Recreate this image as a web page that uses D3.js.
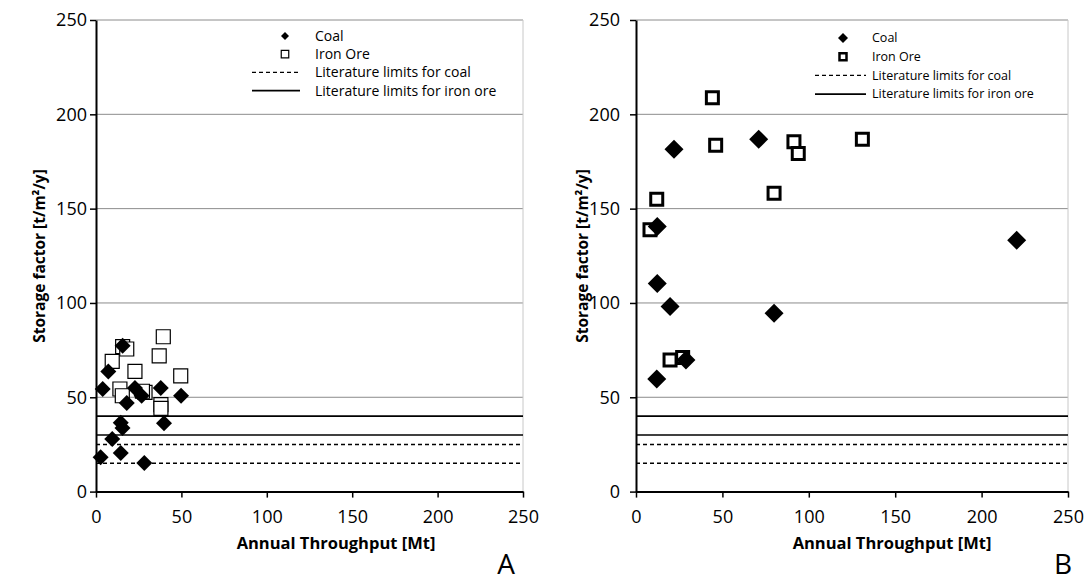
<!DOCTYPE html>
<html>
<head>
<meta charset="utf-8">
<script src="https://cdnjs.cloudflare.com/ajax/libs/d3/7.8.5/d3.min.js"></script>
<style>
  body { margin: 0; background: #fff; }
  svg text { font-family: "Open Sans", "DejaVu Sans", sans-serif; fill: #000; }
</style>
</head>
<body>
<div class="chart"></div>
<script>
// values: [throughput Mt, storage factor t/m2/y]
var coalA = [[15.6, 77.3], [7.2, 63.7], [3.9, 54.4], [22.8, 54.9], [26.7, 50.8], [18, 47],
  [37.9, 54.9], [49.8, 50.8], [14.5, 36.5], [15.5, 33.7], [39.8, 36.2], [9.5, 27.9],
  [14.5, 20.5], [2.7, 18.2], [28.3, 15.2]];
var ironA = [[39.4, 82.1], [15.6, 76.8], [18, 75.6], [9.5, 69], [37, 72], [22.8, 63.7],
  [49.6, 61.4], [14, 54.4], [15.4, 50.8], [28.7, 52.6], [27.2, 53.2], [38, 46.1], [38, 44.1]];

var coalB = [[22, 181.5], [71, 186.8], [12.3, 140.5], [12.3, 110.3], [19.7, 98.1],
  [79.9, 94.6], [28.9, 69.8], [12, 59.7], [220.3, 133.3]];
var ironB = [[44.2, 208.8], [46.1, 183.6], [91.4, 185.4], [93.9, 179.2], [131, 186.8],
  [79.9, 158.2], [12, 155], [8.1, 138.8], [19.7, 69.8], [27, 71.1]];

var litCoal = [15, 25];
var litIron = [30, 40];
var xTicks = [0, 50, 100, 150, 200, 250];
var yTicks = [0, 50, 100, 150, 200, 250];
var legendLabels = ["Coal", "Iron Ore", "Literature limits for coal", "Literature limits for iron ore"];

var svg = d3.select(".chart").append("svg")
  .attr("width", 1086)
  .attr("height", 582);

function drawPanel(p) {
  var x = d3.scaleLinear().domain([0, 250]).range([p.left, p.right]);
  var y = d3.scaleLinear().domain([0, 250]).range([491.6, 20]);
  var g = svg.append("g");

  // gridlines
  g.selectAll(".grid")
    .data(yTicks.slice(1))
    .enter().append("line")
    .attr("x1", x(0)).attr("x2", x(250))
    .attr("y1", d => y(d)).attr("y2", d => y(d))
    .attr("stroke", "#8c8c8c").attr("stroke-width", 1);

  g.append("line")
    .attr("x1", x(250)).attr("x2", x(250))
    .attr("y1", y(0)).attr("y2", y(250))
    .attr("stroke", "#c8c8c8").attr("stroke-width", 1);

  // literature limits
  g.selectAll(".litc")
    .data(litCoal)
    .enter().append("line")
    .attr("x1", x(0)).attr("x2", x(250))
    .attr("y1", d => y(d)).attr("y2", d => y(d))
    .attr("stroke", "#000").attr("stroke-width", 1.4)
    .attr("stroke-dasharray", "4,3");
  g.selectAll(".liti")
    .data(litIron)
    .enter().append("line")
    .attr("x1", x(0)).attr("x2", x(250))
    .attr("y1", d => y(d)).attr("y2", d => y(d))
    .attr("stroke", "#000").attr("stroke-width", 1.6);

  // axes
  var xAxis = g.append("g")
    .attr("transform", `translate(0, ${y(0)})`)
    .call(d3.axisBottom(x).tickValues(xTicks).tickSize(6).tickSizeOuter(0).tickPadding(13));
  var yAxis = g.append("g")
    .attr("transform", `translate(${x(0)}, 0)`)
    .call(d3.axisLeft(y).tickValues(yTicks).tickSize(6).tickSizeOuter(0).tickPadding(p.ypad));
  [xAxis, yAxis].forEach(function(a) {
    a.select(".domain").attr("stroke", "#000").attr("stroke-width", 2);
    a.selectAll(".tick line").attr("stroke", "#000").attr("stroke-width", 1.5);
    a.selectAll(".tick text").attr("font-size", "18px").attr("font-family", null);
  });

  // iron ore squares first, coal diamonds on top
  var sq = d3.symbol().type(d3.symbolSquare).size(p.sqSize * p.sqSize);
  g.selectAll(".iron")
    .data(p.iron)
    .enter().append("path")
    .attr("d", sq)
    .attr("transform", d => `translate(${x(d[0])}, ${y(d[1])})`)
    .attr("fill", "#fff")
    .attr("stroke", "#000")
    .attr("stroke-width", p.sqStroke);

  var dia = d3.symbol().type(d3.symbolSquare).size(p.diaSize * p.diaSize / 2);
  g.selectAll(".coal")
    .data(p.coal)
    .enter().append("path")
    .attr("d", dia)
    .attr("transform", d => `translate(${x(d[0])}, ${y(d[1])}) rotate(45)`)
    .attr("fill", "#000");

  // axis titles
  g.append("text")
    .attr("x", p.xTitleX).attr("y", 549)
    .attr("text-anchor", "middle")
    .attr("font-size", "16.5px").attr("font-weight", "bold")
    .text("Annual Throughput [Mt]");
  g.append("text")
    .attr("transform", `translate(${p.yTitleX}, 256) rotate(-90)`)
    .attr("text-anchor", "middle")
    .attr("font-size", "15.5px").attr("font-weight", "bold")
    .text("Storage factor [t/m²/y]");

  g.append("text")
    .attr("x", p.letterX).attr("y", 574)
    .attr("text-anchor", "middle")
    .attr("font-size", "28px")
    .text(p.letter);

  // legend
  var L = p.legend;
  var leg = g.append("g");
  leg.selectAll("text")
    .data(legendLabels)
    .enter().append("text")
    .attr("x", L.tx)
    .attr("y", (d, i) => L.y0 + i * L.dy)
    .attr("dy", "0.35em")
    .attr("font-size", L.font + "px")
    .text(d => d);
  leg.append("path")
    .attr("d", d3.symbol().type(d3.symbolSquare).size(L.dia * L.dia / 2))
    .attr("transform", `translate(${L.mx}, ${L.y0}) rotate(45)`)
    .attr("fill", "#000");
  leg.append("path")
    .attr("d", d3.symbol().type(d3.symbolSquare).size(L.sq * L.sq))
    .attr("transform", `translate(${L.mx}, ${L.y0 + L.dy})`)
    .attr("fill", "#fff").attr("stroke", "#000").attr("stroke-width", L.sqStroke);
  leg.append("line")
    .attr("x1", L.lx1).attr("x2", L.lx2)
    .attr("y1", L.y0 + 2 * L.dy).attr("y2", L.y0 + 2 * L.dy)
    .attr("stroke", "#000").attr("stroke-width", 1.4).attr("stroke-dasharray", "4,3");
  leg.append("line")
    .attr("x1", L.lx1).attr("x2", L.lx2)
    .attr("y1", L.y0 + 3 * L.dy).attr("y2", L.y0 + 3 * L.dy)
    .attr("stroke", "#000").attr("stroke-width", 1.6);
}

drawPanel({
  left: 96, right: 523, ypad: 3,
  coal: coalA, iron: ironA,
  diaSize: 16, sqSize: 14, sqStroke: 1.2,
  xTitleX: 336, yTitleX: 45, letterX: 506, letter: "A",
  legend: { tx: 315, mx: 285, lx1: 252, lx2: 300, y0: 36, dy: 18.2, font: 14, dia: 8, sq: 7.5, sqStroke: 1.2 }
});
drawPanel({
  left: 636, right: 1068, ypad: 10,
  coal: coalB, iron: ironB,
  diaSize: 19, sqSize: 12, sqStroke: 3,
  xTitleX: 892, yTitleX: 588, letterX: 1063, letter: "B",
  legend: { tx: 872, mx: 843, lx1: 815, lx2: 866, y0: 38, dy: 18.7, font: 12.5, dia: 10, sq: 7, sqStroke: 2.5 }
});
</script>
</body>
</html>
